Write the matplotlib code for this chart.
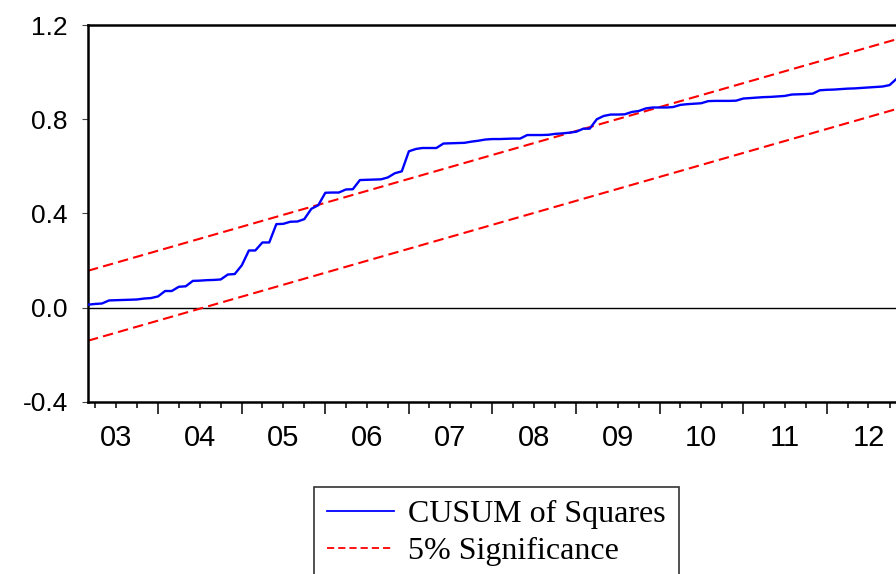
import pandas as pd
import matplotlib
matplotlib.use('Agg')
import matplotlib.pyplot as plt
import matplotlib.dates as mdates
from matplotlib.lines import Line2D


# monthly sample, 2003M03 - 2012M12
dates = pd.date_range('2003-03-01', periods=118, freq='MS')

# CUSUM of squares values
cusum_sq = [
    0.013, 0.016, 0.018, 0.031, 0.032, 0.033, 0.034, 0.035, 0.039, 0.041,
    0.048, 0.071, 0.071, 0.089, 0.091, 0.114, 0.115, 0.117, 0.118, 0.120,
    0.141, 0.143, 0.180, 0.243, 0.243, 0.277, 0.277, 0.355, 0.356, 0.365,
    0.366, 0.376, 0.420, 0.435, 0.488, 0.489, 0.489, 0.502, 0.503, 0.542,
    0.543, 0.544, 0.545, 0.553, 0.571, 0.579, 0.664, 0.674, 0.678, 0.678,
    0.678, 0.697, 0.698, 0.699, 0.700, 0.705, 0.709, 0.714, 0.716, 0.716,
    0.717, 0.718, 0.718, 0.733, 0.733, 0.733, 0.734, 0.738, 0.740, 0.743,
    0.747, 0.760, 0.760, 0.800, 0.814, 0.820, 0.820, 0.821, 0.831, 0.835,
    0.846, 0.850, 0.850, 0.850, 0.852, 0.861, 0.864, 0.866, 0.868, 0.877,
    0.878, 0.878, 0.878, 0.879, 0.888, 0.890, 0.892, 0.894, 0.895, 0.897,
    0.899, 0.905, 0.906, 0.907, 0.909, 0.923, 0.925, 0.926, 0.928, 0.930,
    0.931, 0.933, 0.935, 0.937, 0.939, 0.945, 0.972, 1.000,
]

# 5% significance bands (straight lines, start and end values)
sig_dates = [dates[0], dates[-1]]
upper = [0.157, 1.148]
lower = [-0.140, 0.852]

yticks = [-0.4, 0.0, 0.4, 0.8, 1.2]
ytick_labels = ['-0.4', '0.0', '0.4', '0.8', '1.2']
years = list(range(2003, 2013))
year_labels = ['03', '04', '05', '06', '07', '08', '09', '10', '11', '12']

plt.rcParams['font.family'] = ['Liberation Sans', 'DejaVu Sans']

fig = plt.figure(figsize=(8.96, 5.74), dpi=100)
ax = fig.add_axes([0.0982, 0.2997, 0.9025, 0.6567])

ax.axhline(0, color='black', lw=1.0, zorder=1)
ax.plot(dates, cusum_sq, color='blue', lw=1.7, zorder=3)
ax.plot(sig_dates, upper, color='red', lw=1.5, ls=(0, (5, 2.5)), zorder=2)
ax.plot(sig_dates, lower, color='red', lw=1.5, ls=(0, (5, 2.5)), zorder=2)

ax.set_ylim(-0.4, 1.2)
ax.set_xlim(dates[0], dates[116])

ax.set_yticks(yticks)
ax.set_yticklabels(ytick_labels)
ax.tick_params(axis='y', direction='out', length=4.5, width=0.8,
               color='#444444', pad=10, labelsize=19)

# year boundaries long ticks, quarters short ticks
ax.xaxis.set_major_locator(mdates.YearLocator())
ax.xaxis.set_minor_locator(mdates.MonthLocator(bymonth=[1, 4, 7, 10]))
ax.xaxis.set_major_formatter(plt.NullFormatter())
ax.tick_params(axis='x', which='major', direction='out', length=8.5, width=1.1)
ax.tick_params(axis='x', which='minor', direction='out', length=4.3, width=1.1)

# year labels centred in each year
sec = ax.secondary_xaxis('bottom')
mid = [mdates.date2num(pd.Timestamp(f'{y}-07-01')) for y in years]
sec.set_xticks(mid)
sec.set_xticklabels(year_labels)
sec.tick_params(length=0, pad=16, labelsize=21)
sec.spines['bottom'].set_visible(False)

for s in ['left', 'top', 'bottom']:
    ax.spines[s].set_linewidth(1.8)
ax.spines['right'].set_visible(False)

handles = [
    Line2D([], [], color='blue', lw=1.3),
    Line2D([], [], color='red', lw=1.3, ls=(0, (4, 2.2))),
]
leg = fig.legend(handles, ['CUSUM of Squares', '5% Significance'],
                 loc='upper center', bbox_to_anchor=(0.554, 0.1516),
                 prop={'family': 'Liberation Serif', 'size': 23},
                 frameon=True, fancybox=False, edgecolor='black',
                 handlelength=2.1, handletextpad=0.45, borderpad=0.4,
                 labelspacing=0.25, borderaxespad=0)
leg.get_frame().set_linewidth(1.2)

fig.savefig('out.png', dpi=100)
